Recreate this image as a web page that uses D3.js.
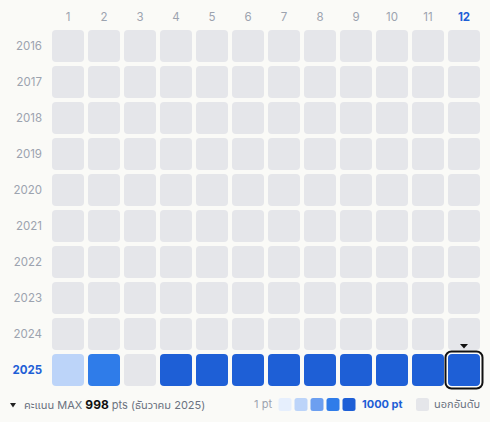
<!DOCTYPE html>
<html>
<head>
<meta charset="utf-8">
<script src="https://d3js.org/d3.v7.min.js"></script>
<style>
body { margin: 0; background: #fafaf7; }
svg { display: block; font-family: Inter, "Noto Sans Thai UI", "Noto Sans Thai", "Noto Sans", sans-serif; }
</style>
</head>
<body>
<script>
// data
var months = [1, 2, 3, 4, 5, 6, 7, 8, 9, 10, 11, 12];
var years = [2016, 2017, 2018, 2019, 2020, 2021, 2022, 2023, 2024, 2025];
// points of 2025 (null = not ranked); other years have no ranking
var scores2025 = [310, 720, null, 905, 930, 948, 962, 975, 981, 988, 993, 998];
var legendColors = ["#e6effd", "#bcd4f9", "#6c9ff0", "#2f7ce9", "#1e5fd6"];
var selYear = 2025, selMonth = 12;

var cells = [];
years.forEach(function(y) {
  months.forEach(function(m, i) {
    cells.push({year: y, month: m, value: y == 2025 ? scores2025[i] : null});
  });
});

var svg = d3.select("body").append("svg")
  .attr("width", 490)
  .attr("height", 422);

var x = d3.scaleBand().domain(months).range([50, 482]).paddingInner(1/9).paddingOuter(1/18);
var y = d3.scaleBand().domain(years).range([28, 388]).paddingInner(1/9).paddingOuter(1/18);
var color = d3.scaleQuantize().domain([1, 1000]).range(legendColors);

var gray = "#9ca3af";
var blue = "#1e5fd6";

// month labels
svg.selectAll(".mlab").data(months).enter().append("text")
  .attr("x", function(d) { return x(d) + x.bandwidth() / 2; })
  .attr("y", 21)
  .attr("text-anchor", "middle")
  .style("font-size", "11.5px")
  .style("font-weight", function(d) { return d == selMonth ? 700 : 400; })
  .style("fill", function(d) { return d == selMonth ? blue : gray; })
  .text(function(d) { return d; });

// year labels
svg.selectAll(".ylab").data(years).enter().append("text")
  .attr("x", 42)
  .attr("y", function(d) { return y(d) + y.bandwidth() / 2 + 4; })
  .attr("text-anchor", "end")
  .style("font-size", "11.5px")
  .style("font-weight", function(d) { return d == selYear ? 700 : 400; })
  .style("fill", function(d) { return d == selYear ? blue : gray; })
  .text(function(d) { return d; });

// cells
svg.selectAll(".cell").data(cells).enter().append("rect")
  .attr("x", function(d) { return x(d.month); })
  .attr("y", function(d) { return y(d.year); })
  .attr("width", x.bandwidth())
  .attr("height", y.bandwidth())
  .attr("rx", 4)
  .attr("fill", function(d) { return d.value == null ? "#e5e6ea" : color(d.value); });

// selected cell outline + marker
var sx = x(selMonth), sy = y(selYear);
svg.append("rect")
  .attr("x", sx - 1)
  .attr("y", sy - 1)
  .attr("width", x.bandwidth() + 2)
  .attr("height", y.bandwidth() + 2)
  .attr("rx", 5)
  .attr("fill", "none")
  .attr("stroke", "#fff")
  .attr("stroke-width", 1);
svg.append("rect")
  .attr("x", sx - 2.5)
  .attr("y", sy - 2.5)
  .attr("width", x.bandwidth() + 5)
  .attr("height", y.bandwidth() + 5)
  .attr("rx", 6)
  .attr("fill", "none")
  .attr("stroke", "#111")
  .attr("stroke-width", 2);
var cx = sx + x.bandwidth() / 2;
svg.append("path")
  .attr("d", "M" + (cx - 4) + "," + (sy - 10) + "L" + (cx + 4) + "," + (sy - 10) + "L" + cx + "," + (sy - 5.5) + "Z")
  .attr("fill", "#111");

// footer left
svg.append("path")
  .attr("d", "M10,403L16,403L13,407.5Z")
  .attr("fill", "#222");
var foot = svg.append("text")
  .attr("x", 24)
  .attr("y", 409)
  .style("font-size", "11px")
  .style("fill", "#6b7280");
foot.append("tspan").text("คะแนน MAX ");
foot.append("tspan").style("font-weight", 700).style("fill", "#111").style("font-size", "12px").text(d3.max(scores2025));
foot.append("tspan").text(" pts (ธันวาคม 2025)");

// legend
svg.append("text")
  .attr("x", 272)
  .attr("y", 408)
  .attr("text-anchor", "end")
  .style("font-size", "11px")
  .style("fill", gray)
  .text("1 pt");
svg.selectAll(".leg").data(legendColors).enter().append("rect")
  .attr("x", function(d, i) { return 278.5 + i * 16; })
  .attr("y", 398)
  .attr("width", 13)
  .attr("height", 13)
  .attr("rx", 2.5)
  .attr("fill", function(d) { return d; });
svg.append("text")
  .attr("x", 362)
  .attr("y", 408)
  .style("font-size", "11px")
  .style("font-weight", 700)
  .style("fill", blue)
  .text("1000 pt");
svg.append("rect")
  .attr("x", 416)
  .attr("y", 398)
  .attr("width", 13)
  .attr("height", 13)
  .attr("rx", 2.5)
  .attr("fill", "#e5e6ea");
svg.append("text")
  .attr("x", 434)
  .attr("y", 408)
  .style("font-size", "11px")
  .style("fill", "#6b7280")
  .text("นอกอันดับ");
</script>
</body>
</html>
